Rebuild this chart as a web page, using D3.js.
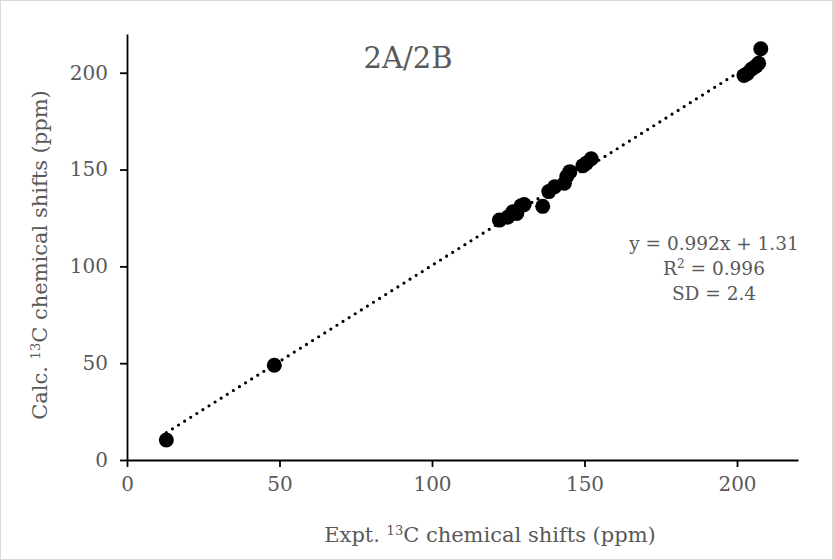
<!DOCTYPE html>
<html>
<head>
<meta charset="utf-8">
<script src="https://cdn.jsdelivr.net/npm/d3@7"></script>
<style>
  body { margin: 0; background: #fff; }
  text { font-family: "DejaVu Serif", serif; fill: #595959; }
</style>
</head>
<body>
<div id="chart"></div>
<script>
// experimental vs calculated 13C shifts (ppm)
const exptShifts = [12.9, 48.3, 122.1, 124.8, 126.5, 127.8, 129.2, 130.2, 136.3, 138.3, 140.2, 143.4, 144.2, 145.2, 149.5, 150.6, 152.2,
  202.3, 203.4, 204.8, 206.2, 207.1, 207.8];
const calcShifts = [10.3, 48.9, 123.9, 125.4, 128.2, 127.3, 131.3, 131.9, 131.0, 138.6, 141.1, 142.9, 146.4, 148.9, 152.0, 153.3, 155.6,
  198.6, 199.6, 201.9, 203.4, 204.9, 212.4];
const xTicks = [0, 50, 100, 150, 200];
const yTicks = [0, 50, 100, 150, 200];
const fitSlope = 0.992;
const fitIntercept = 1.31;
const fitLines = ['y = 0.992x + 1.31', 'R2 = 0.996', 'SD = 2.4'];

const width = 833;
const height = 560;
const margin = { top: 34, right: 35, bottom: 100, left: 127 };

const svg = d3.select('#chart')
  .append('svg')
  .attr('width', width)
  .attr('height', height);

// chart border
svg.append('rect')
  .attr('x', 0.5).attr('y', 0.5)
  .attr('width', width - 1).attr('height', height - 1)
  .attr('fill', '#fff')
  .attr('stroke', '#d9d9d9');

const xScale = d3.scaleLinear()
  .domain([0, 220])
  .range([margin.left, width - margin.right]);

const yScale = d3.scaleLinear()
  .domain([0, 220])
  .range([height - margin.bottom, margin.top]);

// Append the X-axis
const xAxis = svg.append('g')
  .attr('transform', `translate(0,${yScale(0)})`)
  .call(d3.axisBottom(xScale).tickValues(xTicks).tickSize(7).tickSizeOuter(0).tickPadding(10));

// Append the Y-axis
const yAxis = svg.append('g')
  .attr('transform', `translate(${xScale(0)},0)`)
  .call(d3.axisLeft(yScale).tickValues(yTicks).tickSize(7).tickSizeOuter(0).tickPadding(12));

[xAxis, yAxis].forEach((ax) => {
  ax.select('.domain').attr('stroke', '#000').attr('stroke-width', 1.8);
  ax.selectAll('.tick line').attr('stroke', '#000').attr('stroke-width', 1.8);
  ax.selectAll('.tick text')
    .style('font-family', '"DejaVu Serif", serif')
    .style('font-size', '20px')
    .attr('fill', '#595959');
});

// trendline over the data range
const xExt = d3.extent(exptShifts);
svg.append('line')
  .attr('x1', xScale(xExt[0]))
  .attr('y1', yScale(fitSlope * xExt[0] + fitIntercept))
  .attr('x2', xScale(xExt[1]))
  .attr('y2', yScale(fitSlope * xExt[1] + fitIntercept))
  .attr('stroke', '#000')
  .attr('stroke-width', 3.2)
  .attr('stroke-linecap', 'round')
  .attr('stroke-dasharray', '0 7.2');

// points
svg.selectAll('circle.pt')
  .data(exptShifts.map((x, i) => [x, calcShifts[i]]))
  .enter().append('circle')
  .attr('class', 'pt')
  .attr('cx', (d) => xScale(d[0]))
  .attr('cy', (d) => yScale(d[1]))
  .attr('r', 7.5)
  .attr('fill', '#000');

// title
svg.append('text')
  .attr('x', 408)
  .attr('y', 68)
  .attr('text-anchor', 'middle')
  .style('font-size', '29px')
  .text('2A/2B');

// fit annotation
const ann = svg.append('text')
  .attr('text-anchor', 'middle')
  .style('font-size', '18.5px');
ann.append('tspan').attr('x', 714).attr('y', 250).text(fitLines[0]);
const r2 = ann.append('tspan').attr('x', 714).attr('y', 275);
r2.append('tspan').text('R');
r2.append('tspan').attr('baseline-shift', 'super').style('font-size', '12px').text('2');
r2.append('tspan').text(' = 0.996');
ann.append('tspan').attr('x', 714).attr('y', 300).text(fitLines[2]);

// axis titles
const xl = svg.append('text')
  .attr('x', 490)
  .attr('y', 542)
  .attr('text-anchor', 'middle')
  .style('font-size', '21px');
xl.append('tspan').text('Expt. ');
xl.append('tspan').attr('baseline-shift', 'super').style('font-size', '13px').text('13');
xl.append('tspan').text('C chemical shifts (ppm)');

const yl = svg.append('text')
  .attr('transform', 'translate(47,255) rotate(-90)')
  .attr('text-anchor', 'middle')
  .style('font-size', '21px');
yl.append('tspan').text('Calc. ');
yl.append('tspan').attr('baseline-shift', 'super').style('font-size', '13px').text('13');
yl.append('tspan').text('C chemical shifts (ppm)');
</script>
</body>
</html>
